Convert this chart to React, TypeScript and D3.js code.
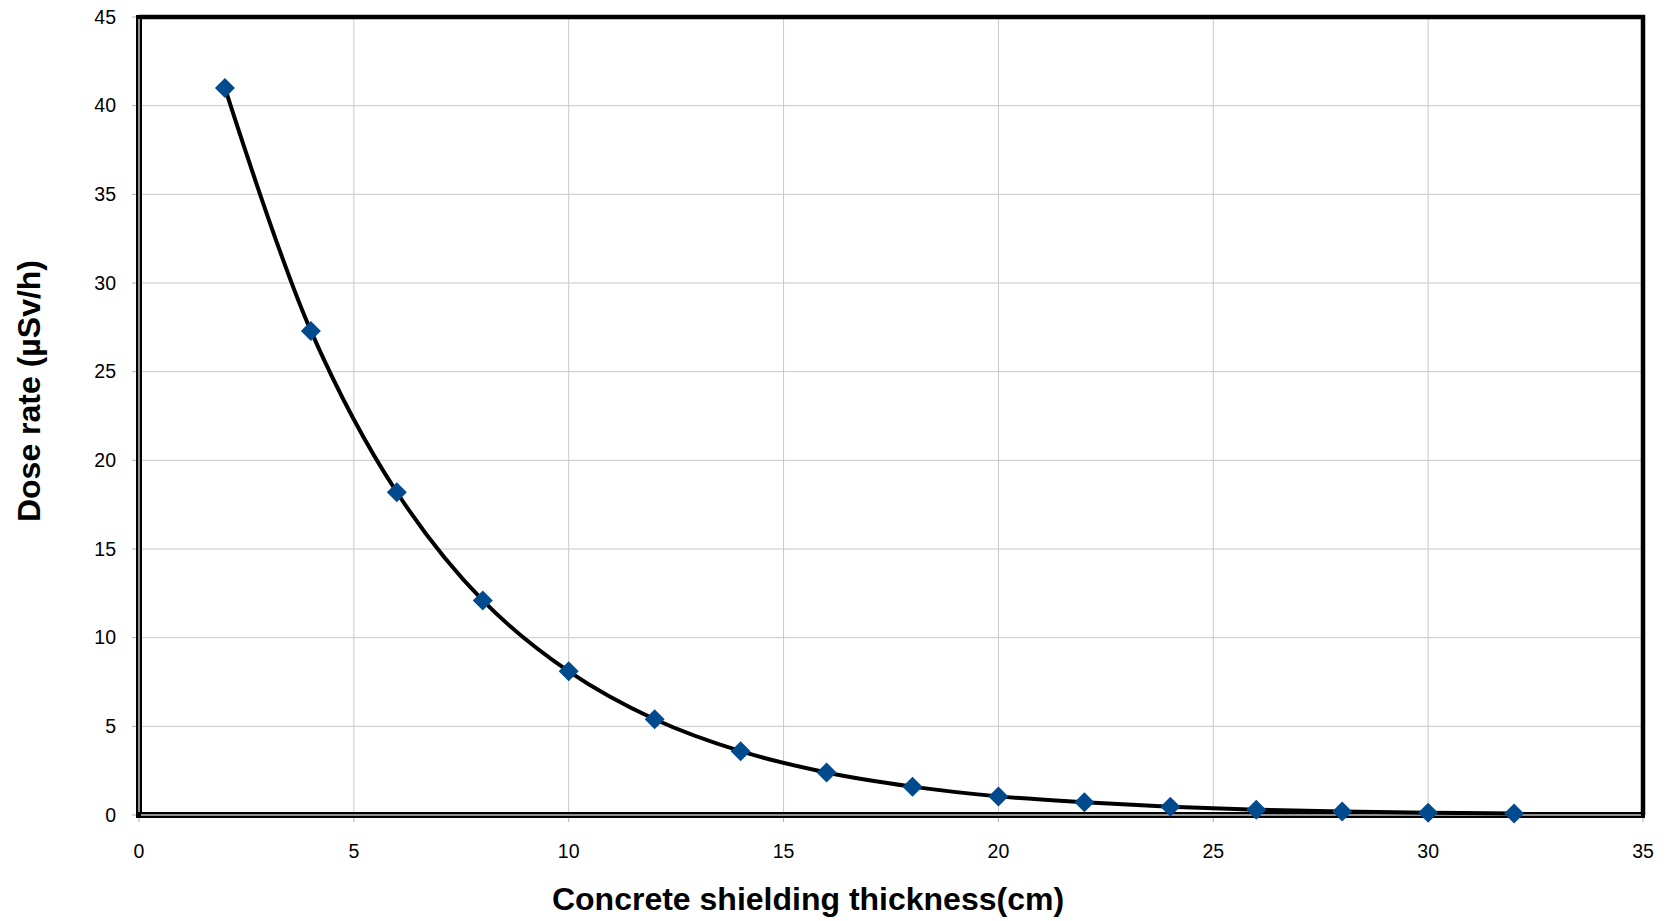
import React from "react";
import * as d3 from "d3";

const thickness = [2, 4, 6, 8, 10, 12, 14, 16, 18, 20, 22, 24, 26, 28, 30, 32];
const doseRate = [41.0, 27.3, 18.2, 12.1, 8.1, 5.4, 3.6, 2.4, 1.6, 1.05, 0.72, 0.47, 0.3, 0.2, 0.13, 0.08];
const xTicks = [0, 5, 10, 15, 20, 25, 30, 35];
const yTicks = [0, 5, 10, 15, 20, 25, 30, 35, 40, 45];
const xTitle = "Concrete shielding thickness(cm)";
const yTitle = "Dose rate (µSv/h)";

export default function App() {
  const W = 1669, H = 921;
  const L = 139, R = 1643, T = 17, B = 815;
  const x = d3.scaleLinear().domain([0, 35]).range([L, R]);
  const y = d3.scaleLinear().domain([0, 45]).range([B, T]);
  const pts: [number, number][] = thickness.map((t, i) => [x(t), y(doseRate[i])]);
  const line = d3.line().curve(d3.curveCatmullRom.alpha(0.5))(pts) || "";
  const font = "'Liberation Sans', Arial, sans-serif";
  const s = 10;
  return (
    <svg width={W} height={H} style={{ position: "absolute", left: 0, top: 0, background: "#fff" }}>
      {xTicks.slice(1, -1).map((t) => (
        <line key={"gx" + t} x1={x(t)} x2={x(t)} y1={T} y2={B} stroke="#c8c8c8" strokeWidth={1} />
      ))}
      {yTicks.slice(1, -1).map((t) => (
        <line key={"gy" + t} x1={L} x2={R} y1={y(t)} y2={y(t)} stroke="#c8c8c8" strokeWidth={1} />
      ))}
      {yTicks.map((t) => (
        <line key={"ty" + t} x1={L - 7} x2={L} y1={y(t)} y2={y(t)} stroke="#b0b0b0" strokeWidth={1} />
      ))}
      {xTicks.map((t) => (
        <line key={"tx" + t} x1={x(t)} x2={x(t)} y1={B} y2={B + 7} stroke="#b0b0b0" strokeWidth={1} />
      ))}
      <line x1={L} x2={R + 2} y1={T} y2={T} stroke="#000" strokeWidth={4.5} />
      <line x1={R} x2={R} y1={T - 2} y2={B} stroke="#000" strokeWidth={4.5} />
      <line x1={L} x2={L} y1={T - 2} y2={B + 3} stroke="#000" strokeWidth={6} />
      <line x1={L} x2={L} y1={T + 2} y2={B - 2} stroke="#c0c0c0" strokeWidth={1.5} />
      <line x1={L - 3} x2={R + 2} y1={B} y2={B} stroke="#000" strokeWidth={6} />
      <line x1={L + 2} x2={R - 2} y1={B} y2={B} stroke="#c0c0c0" strokeWidth={1.5} />
      <path d={line} fill="none" stroke="#000" strokeWidth={4} />
      {pts.map(([px, py], i) => (
        <path key={"m" + i} d={`M${px},${py - s}L${px + s},${py}L${px},${py + s}L${px - s},${py}Z`} fill="#004a8d" />
      ))}
      {yTicks.map((t) => (
        <text key={"ly" + t} x={L - 23} y={y(t)} dy="0.35em" textAnchor="end" fontFamily={font} fontSize={19.5} fill="#000">
          {t}
        </text>
      ))}
      {xTicks.map((t) => (
        <text key={"lx" + t} x={x(t)} y={B + 36} dy="0.35em" textAnchor="middle" fontFamily={font} fontSize={19.5} fill="#000">
          {t}
        </text>
      ))}
      <text x={808} y={899} dy="0.35em" textAnchor="middle" fontFamily={font} fontSize={32} fontWeight="bold">
        {xTitle}
      </text>
      <text transform={`translate(29,391) rotate(-90)`} dy="0.35em" textAnchor="middle" fontFamily={font} fontSize={32} fontWeight="bold">
        {yTitle}
      </text>
    </svg>
  );
}
